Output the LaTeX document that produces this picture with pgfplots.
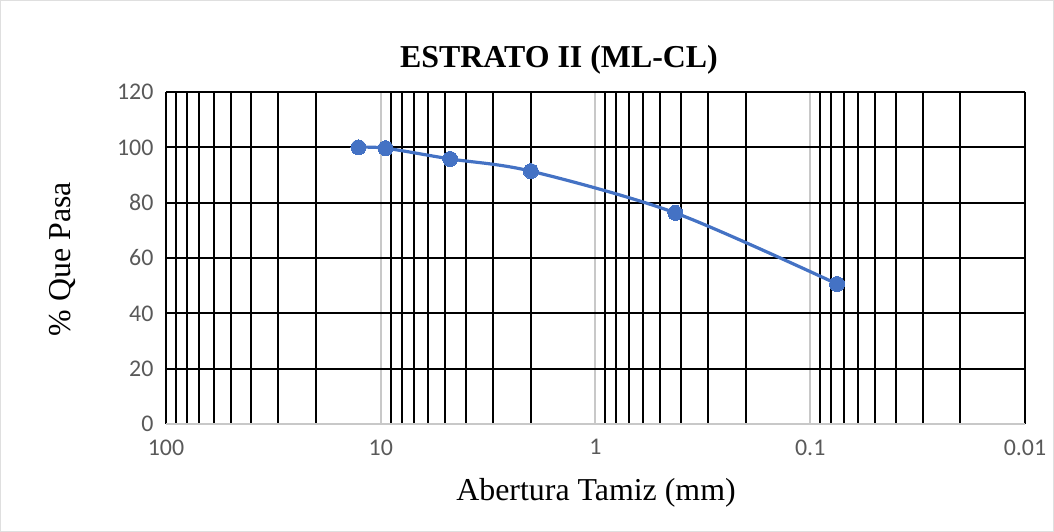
\documentclass[border=0pt]{standalone}
\usepackage{pgfplots}
\pgfplotsset{compat=1.18}
\usepackage{fontspec}
\setmainfont{Liberation Serif}
\newfontfamily\calibri{Carlito}
\definecolor{serie}{HTML}{4472C4}
\definecolor{ticktext}{HTML}{595959}
\definecolor{gridgray}{HTML}{C8C8C8}
\begin{document}
\begin{tikzpicture}
\path[use as bounding box, draw=gray!25, line width=1bp] (0.5bp,0.5bp) rectangle (1053.5bp,531.5bp);
\begin{axis}[
    at={(166bp,108bp)}, anchor=south west,
    scale only axis,
    width=859bp, height=332bp,
    xmode=log, x dir=reverse,
    xmin=0.01, xmax=100,
    ymin=0, ymax=120,
    xtick={100,10,1,0.1,0.01},
    xticklabels={100,10,1,0.1,0.01},
    minor xtick={20,30,40,50,60,70,80,90,2,3,4,5,6,7,8,9,0.2,0.3,0.4,0.5,0.6,0.7,0.8,0.9,0.02,0.03,0.04,0.05,0.06,0.07,0.08,0.09},
    ytick={0,20,40,60,80,100,120},
    major tick length=0pt, minor tick length=0pt,
    xmajorgrids=true, xminorgrids=true, ymajorgrids=true,
    major x grid style={gridgray, line width=2bp},
    minor x grid style={black, line width=2bp},
    major y grid style={black, line width=2bp},
    axis line style={draw=none},
    /pgf/number format/assume math mode=true,
    tick label style={font=\calibri\fontsize{24}{24}\selectfont, text=ticktext},
    xticklabel style={yshift=-12bp},
    yticklabel style={xshift=-9bp},
    clip=false,
]
% bordes del area de trazado
\draw[black, line width=2bp] (axis cs:100,0) -- (axis cs:100,120);
\draw[black, line width=2bp] (axis cs:0.01,0) -- (axis cs:0.01,120);
\draw[gridgray, line width=2bp] (axis cs:100,0) -- (axis cs:0.01,0);
% granulometria
\addplot[
    color=serie, line width=3.2bp, smooth,
    mark=*, mark size=7.5bp, mark options={fill=serie, draw=serie, line width=0pt},
    ]
    coordinates {
    (12.7,100)(9.5,99.7)(4.75,95.8)(2.0,91.4)(0.425,76.3)(0.075,50.6)
    };
\end{axis}
\node[font=\bfseries\fontsize{32}{32}\selectfont] at (559bp,472bp) {ESTRATO II (ML-CL)};
\node[font=\fontsize{32}{32}\selectfont] at (596bp,39bp) {Abertura Tamiz (mm)};
\node[font=\fontsize{32}{32}\selectfont, rotate=90] at (62bp,273bp) {\% Que Pasa};
\end{tikzpicture}
\end{document}
